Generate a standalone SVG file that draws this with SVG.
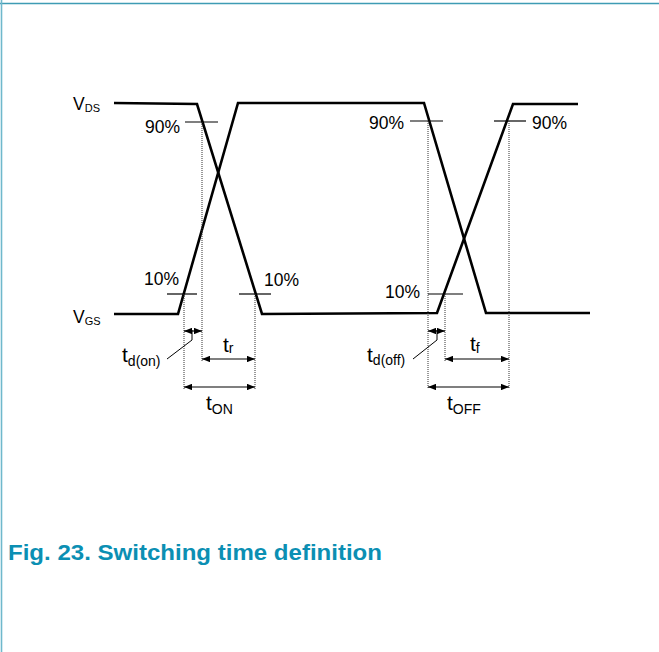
<svg xmlns="http://www.w3.org/2000/svg" width="659" height="652" viewBox="0 0 659 652">
<style>
.wave{fill:none;stroke:#000;stroke-width:2.6;stroke-linejoin:miter}
.tick{stroke:#000;stroke-width:1.2}
.dot{stroke:#333;stroke-width:1;stroke-dasharray:1,1}
.dim{stroke:#000;stroke-width:1.2;marker-start:url(#ah);marker-end:url(#ah)}
.lead{fill:none;stroke:#000;stroke-width:1}
text{font-family:"Liberation Sans",Arial,sans-serif;fill:#000}
.lbl{font-size:17.5px}
.big{font-size:21px}
.sub{font-size:14px}
.vsub{font-size:11px}
.title{font-size:22px;font-weight:bold;fill:#0b8fb3}
</style>
<defs>
<marker id="ah" viewBox="0 0 10 8" refX="10" refY="4" markerWidth="8" markerHeight="6.5" markerUnits="userSpaceOnUse" orient="auto-start-reverse">
<path d="M0,0 L10,4 L0,8 Z" fill="#000"/>
</marker>
</defs>
<rect width="659" height="652" fill="#fff"/>
<g id="frame">
<line x1="0" y1="3.5" x2="659" y2="3.5" stroke="#3f9cb4" stroke-width="1.6"/>
<line x1="1.5" y1="0" x2="1.5" y2="652" stroke="#6fb8cc" stroke-width="1.6"/>
</g>
<g id="connectors">
<polyline id="vds" class="wave" points="114,103 197,104 262,314 437,313 513,104 578,104"/>
<polyline id="vgs" class="wave" points="114,314 178,314 238,103 424,103 486,313 590,313"/>
<line class="tick" x1="185" y1="122" x2="218" y2="122"/>
<line class="tick" x1="410" y1="121" x2="443" y2="121"/>
<line class="tick" x1="494" y1="121" x2="526" y2="121"/>
<line class="tick" x1="167" y1="294" x2="197" y2="294"/>
<line class="tick" x1="239" y1="294" x2="271" y2="294"/>
<line class="tick" x1="428" y1="294" x2="463" y2="294"/>
<line class="dot" x1="202" y1="122" x2="202" y2="362"/>
<line class="dot" x1="184" y1="294" x2="184" y2="389"/>
<line class="dot" x1="255" y1="294" x2="255" y2="389"/>
<line class="dot" x1="428" y1="121" x2="428" y2="389"/>
<line class="dot" x1="445" y1="294" x2="445" y2="362"/>
<line class="dot" x1="509" y1="121" x2="509" y2="389"/>
<line class="dim" x1="184" y1="331" x2="202" y2="331"/>
<line class="dim" x1="202" y1="359" x2="255" y2="359"/>
<line class="dim" x1="184" y1="387" x2="255" y2="387"/>
<line class="dim" x1="428" y1="331" x2="445" y2="331"/>
<line class="dim" x1="445" y1="359" x2="509" y2="359"/>
<line class="dim" x1="428" y1="387" x2="509" y2="387"/>
<polyline class="lead" points="192,330 192,340 167,359"/>
<polyline class="lead" points="437,330 437,340 413,359"/>
</g>
<g id="label-vds"><text class="lbl" x="73" y="110">V<tspan class="vsub" dy="2">DS</tspan></text></g>
<g id="label-vgs"><text class="lbl" x="73" y="323">V<tspan class="vsub" dy="2">GS</tspan></text></g>
<g id="p90a"><text class="lbl" x="180" y="133" text-anchor="end">90%</text></g>
<g id="p90b"><text class="lbl" x="404" y="129" text-anchor="end">90%</text></g>
<g id="p90c"><text class="lbl" x="532" y="129">90%</text></g>
<g id="p10a"><text class="lbl" x="179" y="285" text-anchor="end">10%</text></g>
<g id="p10b"><text class="lbl" x="264" y="286">10%</text></g>
<g id="p10c"><text class="lbl" x="420" y="298" text-anchor="end">10%</text></g>
<g id="tdon"><text class="big" x="122" y="362">t<tspan class="sub" dy="4">d(on)</tspan></text></g>
<g id="tr"><text class="big" x="223" y="352">t<tspan class="sub" dy="1">r</tspan></text></g>
<g id="ton"><text class="big" x="206" y="410">t<tspan class="sub" dy="4">ON</tspan></text></g>
<g id="tdoff"><text class="big" x="367" y="362">t<tspan class="sub" dy="3">d(off)</tspan></text></g>
<g id="tf"><text class="big" x="470" y="351">t<tspan class="sub" dy="2">f</tspan></text></g>
<g id="toff"><text class="big" x="447" y="410">t<tspan class="sub" dy="4">OFF</tspan></text></g>
<g id="caption"><text class="title" x="8" y="560" textLength="374" lengthAdjust="spacingAndGlyphs">Fig. 23. Switching time definition</text></g>
</svg>
